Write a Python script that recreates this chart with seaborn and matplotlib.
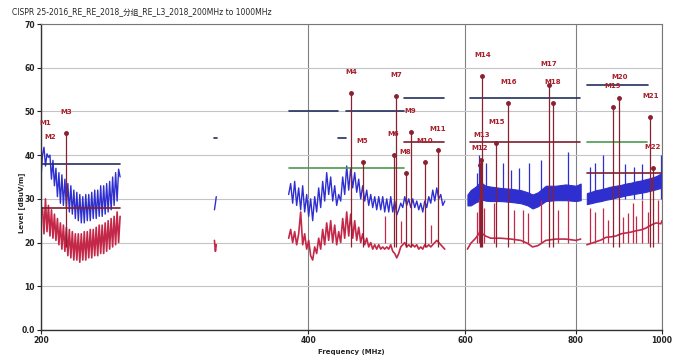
import numpy as np
import matplotlib
matplotlib.use('Agg')
import matplotlib.pyplot as plt
from matplotlib.ticker import FixedLocator, NullLocator
import seaborn as sns

title = 'CISPR 25-2016_RE_RE_2018_分组_RE_L3_2018_200MHz to 1000MHz'

# sweep 1: 200 - 245.5 MHz, peak / average (even log steps)
sweep_a = (200, 245.5)
peak_a = [35, 40, 41.8, 37.5, 40.3, 39.5, 40, 34.5, 38.8, 33, 37, 30.5, 36, 29, 35.5, 28.5, 34.5, 28,
          33.5, 27, 33, 26.5, 32, 25.5, 31.5, 25, 31, 24.5, 30.5, 24.5, 31, 25, 31, 25, 31.5, 25.5, 32,
          25.5, 32, 26, 33, 26, 33, 26.5, 33.5, 27, 34, 27.5, 35, 28.5, 36, 29.5, 36.8, 35]
avg_a = [26, 28, 22, 30, 22.5, 28.5, 21.5, 27.5, 21, 26.5, 20.5, 25.5, 19.5, 24.5, 18.5, 24, 18, 23.5,
         17, 23, 16.5, 22.5, 16, 22, 16, 22, 15.5, 22, 16, 22.5, 16, 22.5, 16.5, 23, 16.5, 23, 17, 23.5,
         17, 24, 17.5, 24, 17.5, 24.5, 18, 25, 18.5, 25.5, 19, 26, 19.5, 27, 20, 26]

# sweep 2: tiny piece round 315 MHz
freq_b = [313.5, 314.3, 315.0]
peak_b = [27.5, 29.0, 30.5]
avg_b = [20.5, 18.0, 19.5]

# sweep 3: 380 - 570 MHz
sweep_c = (380, 569.5)
peak_c = [31, 33.5, 29, 34, 28.5, 32.5, 27.5, 33, 27, 31, 26, 30, 25, 30.5, 27, 32.5, 28, 34, 29.5, 36,
          31, 35, 29.5, 33, 28.5, 31, 29.5, 35, 31, 37.5, 32, 37, 32.5, 36, 31.5, 34.5, 30, 33, 29.5, 32,
          28.5, 31, 28, 30.5, 27.5, 30.5, 27.5, 30.5, 27, 30, 27, 30.5, 27, 29.5, 26.3, 27.5, 29, 28,
          30.5, 28.5, 30, 28, 30, 28, 29.5, 27.5, 29, 27, 29.5, 28, 30.5, 29, 32, 29.5, 32.5, 30, 31,
          28.5, 29.5]
avg_c = [21, 23, 20, 22.5, 19.5, 22, 27, 19.5, 22, 18.5, 20.5, 17, 16, 19, 17.5, 21, 18.5, 23, 19.5,
         24.5, 20.5, 25, 20, 24, 19.5, 22.5, 20, 25.5, 21, 27, 21.5, 26.5, 21, 25, 20.5, 23.5, 20, 22,
         19.5, 21, 19, 20, 18.5, 19.5, 18.5, 19.5, 18.5, 19, 18.5, 19, 18.5, 19.5, 18, 17.5, 16.5, 17.5,
         19, 19.5, 20, 19, 19.5, 19, 19.5, 19, 19.5, 18.5, 19, 18.5, 19.5, 19, 19.5, 19, 19.5, 20, 20.5,
         20, 19.5, 19, 18.5]

# sweep 4: 604 - 810 MHz, peak drawn as a band (lo / hi)
freq_d = [604, 609, 617, 622, 625, 628, 633, 641.5, 658, 676, 693.5, 706, 715, 725, 740, 759.5, 779, 800, 810]
peak_d_lo = [28.5, 28.5, 29.2, 29.5, 30, 29.8, 29.6, 29.5, 29.5, 29.3, 29, 28.5, 27.8, 28.3, 29.5, 29.7, 29.7, 29.5, 29.7]
peak_d_hi = [31, 32, 32.8, 33.5, 34, 33.5, 33, 32.8, 32.5, 32.3, 32, 31.5, 31, 31.5, 33, 33, 33.3, 33, 33.5]
avg_d = [18.5, 19.8, 21, 22, 23, 22, 21.5, 21, 21, 20.8, 20.5, 19.8, 19, 19.3, 20.5, 20.8, 20.8, 20.5, 20.8]

# sweep 5: 823 - 1000 MHz
freq_e = [823, 832, 843, 854, 865, 876, 887.5, 899, 911, 923, 935, 947, 959, 972, 985, 997, 1000]
peak_e_lo = [28.8, 29, 29.3, 29.5, 29.8, 30, 30.3, 30.5, 30.8, 31, 31.2, 31.4, 31.6, 31.9, 32.2, 32.5, 32.8]
peak_e_hi = [31.3, 31.6, 32, 32.2, 32.5, 32.8, 33, 33.2, 33.5, 33.7, 34, 34.2, 34.5, 34.8, 35.2, 35.8, 36.5]
avg_e = [19.5, 19.8, 20.2, 20.6, 21.2, 21.3, 21.5, 22, 22.2, 22.4, 22.7, 22.9, 23.3, 24, 24.5, 24.3, 25]

# narrow spikes without a marker
peak_spike_freq = [619.5, 622.5, 633.3, 661.8, 675.7, 689.9, 708.1, 730.5, 783.5, 829.5, 840.4, 858,
                   908.4, 929.9, 949.4, 998]
peak_spike_top = [36, 40, 38.2, 38.2, 36.6, 37, 38.2, 38.9, 40.7, 37.3, 38.2, 40, 38, 37.3, 38, 40]
avg_spike_freq = [487.2, 507.9, 549.0, 619, 622, 630.5, 646.6, 681, 697, 706.2, 730.5, 763.4, 783.5,
                  829.5, 840.4, 858, 869.3, 903.7, 915.5, 927.5, 934.8, 949.4, 964.3, 989.7]
avg_spike_top = [26, 25, 24, 27, 30, 28, 29, 27.5, 27.5, 26.7, 29.7, 27.5, 29.7, 28, 27, 28, 25.2, 25.9,
                 26.7, 29, 26, 29.7, 27, 29.7]

# limit lines: (start MHz, stop MHz, level)
limit_peak = [(200, 245.5, 38), (313, 316, 44), (380, 431.4, 50), (431.4, 441.4, 44), (441.4, 512, 50),
              (512, 568, 53), (607.5, 808.3, 53), (823, 964, 56)]
limit_avg = [(200, 245.5, 28), (512, 568, 43), (607.5, 808.3, 43), (823, 1000, 36)]
limit_green = [(380, 512, 37), (823, 962, 43)]

# markers
marker_names = ['M%d' % i for i in range(1, 23)]
marker_freq = [202.1, 204.7, 213.4, 446.5, 460.2, 498.8, 501.8, 514.6, 521.3, 540.5, 559.1,
               624.1, 626.3, 628.0, 650.9, 671.2, 745.3, 753.1, 880.0, 895.2, 970.2, 977.0]
marker_level = [41.6, 40.2, 45.0, 54.2, 38.4, 40.0, 53.6, 35.9, 45.3, 38.4, 41.2,
                37.7, 39.0, 58.0, 42.8, 52.0, 56.0, 52.0, 51.1, 53.0, 48.7, 37.0]
# small vertical nudges so crowded labels do not sit on each other
label_nudge = [0.9, -0.9, 0, 0, 0, 0, 0, 0, 0, 0, 0,
               -0.9, 0.9, 0, 0, 0, 0, 0, 0, 0, 0, 0]

blue = '#2f2fd0'
red = '#c42848'
navy = '#24305e'
maroon = '#7d1f30'
green = '#4d9a4d'
mk = '#8a2030'

sns.set_style('white')
plt.rcParams['font.family'] = ['DejaVu Sans', 'Noto Sans CJK SC']

fig, ax = plt.subplots(figsize=(6.88, 3.62), dpi=100)
fig.subplots_adjust(left=0.0596, right=0.9622, bottom=0.0884, top=0.9337)
ax.set_xscale('log')

freq_a = np.geomspace(*sweep_a, len(peak_a))
freq_c = np.geomspace(*sweep_c, len(peak_c))

# peak traces
for fx, lv in [(freq_a, peak_a), (freq_b, peak_b), (freq_c, peak_c)]:
    sns.lineplot(x=fx, y=lv, ax=ax, color=blue, lw=1.0, estimator=None, sort=False)
for fx, lo, hi in [(freq_d, peak_d_lo, peak_d_hi), (freq_e, peak_e_lo, peak_e_hi)]:
    ax.fill_between(fx, lo, hi, color=blue, lw=0.8)
ax.vlines(peak_spike_freq, 30, peak_spike_top, color=blue, lw=0.9)

# average traces
for fx, lv in [(freq_a, avg_a), (freq_b, avg_b), (freq_c, avg_c), (freq_d, avg_d), (freq_e, avg_e)]:
    sns.lineplot(x=fx, y=lv, ax=ax, color=red, lw=1.2, estimator=None, sort=False)
ax.vlines(avg_spike_freq, 20, avg_spike_top, color=red, lw=0.9)

# limits
for lst, col in [(limit_peak, navy), (limit_avg, maroon), (limit_green, green)]:
    for f0, f1, lv in lst:
        ax.plot([f0, f1], [lv, lv], color=col, lw=1.2)

# markers
ax.vlines(marker_freq[2:], 19, marker_level[2:], color=mk, lw=0.9)
ax.plot(marker_freq[2:], marker_level[2:], 'o', ms=2.5, color=mk)
for name, f, lv, dy in zip(marker_names, marker_freq, marker_level, label_nudge):
    ax.text(f, lv + 4.8 + dy, name, ha='center', va='center', fontsize=5,
            color='#a8202c', fontweight='bold')

ax.set_xlim(200, 1000)
ax.set_ylim(0, 70)
ax.xaxis.set_major_locator(FixedLocator([200, 400, 600, 800, 1000]))
ax.xaxis.set_minor_locator(NullLocator())
ax.set_xticklabels(['200', '400', '600', '800', '1000'], fontweight='bold')
ax.set_yticks(range(0, 71, 10))
ax.set_yticklabels(['0.0'] + [str(v) for v in range(10, 71, 10)], fontweight='bold')
ax.yaxis.grid(True, color='#c4c4c4', lw=0.8)
ax.xaxis.grid(True, color='#808080', lw=0.8)
ax.set_axisbelow(True)
ax.tick_params(axis='both', bottom=True, left=True, length=3, width=0.8,
               labelsize=5.5, pad=1.5, colors='#222')
for side in ['left', 'bottom']:
    ax.spines[side].set_color('#333')
    ax.spines[side].set_linewidth(1.0)
for side in ['top', 'right']:
    ax.spines[side].set_color('#777')
    ax.spines[side].set_linewidth(0.8)

ax.set_xlabel('Frequency (MHz)', fontsize=5, fontweight='bold', labelpad=3)
ax.set_ylabel('')
fig.text(22 / 688, 1 - 203 / 362, 'Level [dBuV/m]', rotation=90, fontsize=5,
         fontweight='bold', ha='center', va='center')
fig.text(12 / 688, 1 - 12 / 362, title, fontsize=5.5, ha='left', va='center')

fig.savefig('out.png', dpi=100)
